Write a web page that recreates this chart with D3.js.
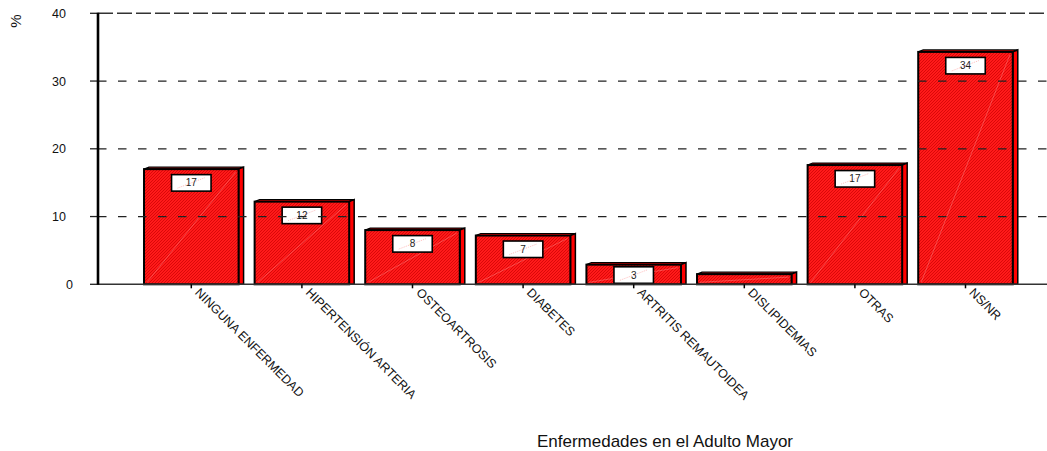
<!DOCTYPE html>
<html><head><meta charset="utf-8">
<script src="https://cdn.jsdelivr.net/npm/d3@7"></script>
<style>body{margin:0;background:#fff;overflow:hidden} text{font-family:"Liberation Sans",Arial,Helvetica,sans-serif}</style>
</head><body><svg id="c" width="1047" height="451"></svg>
<script>
const categories = ["NINGUNA ENFERMEDAD","HIPERTENSIÓN ARTERIA","OSTEOARTROSIS","DIABETES","ARTRITIS REMAUTOIDEA","DISLIPIDEMIAS","OTRAS","NS/NR"];
const values = [17.0, 12.2, 8.0, 7.2, 2.9, 1.5, 17.6, 34.3];
const valueLabels = ["17","12","8","7","3","","17","34"];
const yTicks = [0,10,20,30,40];
const xTitle = "Enfermedades en el Adulto Mayor";
const yTitle = "%";

const svg = d3.select("#c");
const axisX = 98, gridLeft = 90, gridRight = 1047;
const y = d3.scaleLinear().domain([0,40]).range([284.3, 13.3]);
const x = d3.scaleBand().domain(categories).range([136, 1020.8]).paddingInner(0.145).paddingOuter(0.0725);

const defs = svg.append("defs");
const pat = defs.append("pattern").attr("id","hatch").attr("patternUnits","userSpaceOnUse")
  .attr("width",3).attr("height",3);
pat.append("rect").attr("width",3).attr("height",3).attr("fill","#ff1a1a");
pat.append("path").attr("d","M-1,1 L1,-1 M0,3 L3,0 M2,4 L4,2").attr("stroke","#cc0000").attr("stroke-width",0.7);

const depthX = 5, depthY = 2;
const g = svg.append("g");
categories.forEach((c,i)=>{
  const x0 = x(c), w = x.bandwidth(), yt = y(values[i]), yb = y(0);
  g.append("path").attr("d",`M${x0},${yt} L${x0+depthX},${yt-depthY} L${x0+w+depthX},${yt-depthY} L${x0+w},${yt} Z`)
    .attr("fill","#ff0000").attr("stroke","#000").attr("stroke-width",1.2);
  g.append("path").attr("d",`M${x0+w},${yt} L${x0+w+depthX},${yt-depthY} L${x0+w+depthX},${yb} L${x0+w},${yb} Z`)
    .attr("fill","#ff0000").attr("stroke","#000").attr("stroke-width",1.5);
  g.append("rect").attr("x",x0).attr("y",yt).attr("width",w).attr("height",yb-yt)
    .attr("fill","url(#hatch)").attr("stroke","#000").attr("stroke-width",2);
  g.append("line").attr("x1",x0+3).attr("y1",yb-2).attr("x2",x0+w-3).attr("y2",yt+3)
    .attr("stroke","#ffb0b0").attr("stroke-opacity",0.35).attr("stroke-width",1);
});

categories.forEach((c,i)=>{
  if(!valueLabels[i]) return;
  const cx = x(c) + x.bandwidth()/2;
  let top = y(values[i]) + 5.5;
  const bh = 16.5, bw = 39.5;
  if (top + bh > y(0) - 1) top = y(0) - 1 - bh;
  g.append("rect").attr("x",cx-bw/2).attr("y",top).attr("width",bw).attr("height",bh)
    .attr("fill","#fff").attr("stroke","#000").attr("stroke-width",1.6);
  g.append("line").attr("x1",cx-bw/2+6).attr("y1",top+bh-3).attr("x2",cx+bw/2-6).attr("y2",top+3)
    .attr("stroke","#ff9090").attr("stroke-width",0.6).attr("stroke-dasharray","1,1");
  g.append("text").attr("x",cx).attr("y",top+bh/2+3.5).attr("text-anchor","middle")
    .attr("font-size","10px").attr("fill","#222").text(valueLabels[i]);
});

const gridVals = yTicks.filter(v=>v>0 && v<40);
svg.append("g").selectAll("line.g").data(gridVals).join("line")
  .attr("x1",axisX).attr("x2",gridRight).attr("y1",d=>y(d)).attr("y2",d=>y(d))
  .attr("stroke","#222").attr("stroke-width",1.3).attr("stroke-dasharray","8.5,11.5");
svg.append("g").selectAll("line.t").data(yTicks).join("line")
  .attr("x1",gridLeft).attr("x2",axisX).attr("y1",d=>y(d)).attr("y2",d=>y(d))
  .attr("stroke","#222").attr("stroke-width",1.3);
svg.append("line").attr("x1",axisX).attr("x2",gridRight).attr("y1",y(40)).attr("y2",y(40))
  .attr("stroke","#333").attr("stroke-width",1.6).attr("stroke-dasharray","15,4");
svg.append("line").attr("x1",axisX).attr("x2",gridRight).attr("y1",y(0)).attr("y2",y(0))
  .attr("stroke","#333").attr("stroke-width",1.5);
svg.append("line").attr("x1",axisX).attr("x2",axisX).attr("y1",y(40)-0.5).attr("y2",y(0)+0.5)
  .attr("stroke","#000").attr("stroke-width",2.6);

svg.append("g").selectAll("text").data(yTicks).join("text")
  .attr("x",d=> d===0 ? 73 : 66).attr("y",d=>y(d)+4.5).attr("text-anchor","end")
  .attr("font-size","12.5px").attr("fill","#111").text(d=>d);

const xg = svg.append("g");
categories.forEach(c=>{
  const cx = x(c) + x.bandwidth()/2;
  xg.append("line").attr("x1",cx).attr("x2",cx).attr("y1",y(0)).attr("y2",y(0)+4)
    .attr("stroke","#000").attr("stroke-width",1.5);
  xg.append("text").attr("transform",`translate(${cx+3},${y(0)+9}) rotate(45)`)
    .attr("font-size","12.5px").attr("fill","#111").attr("text-anchor","start").text(c);
});

svg.append("text").attr("x",665).attr("y",447).attr("text-anchor","middle")
  .attr("font-size","17px").attr("fill","#111").text(xTitle);
svg.append("text").attr("transform","translate(21,21) rotate(-90)").attr("text-anchor","middle")
  .attr("font-size","15px").attr("fill","#111").text(yTitle);
</script></body></html>
